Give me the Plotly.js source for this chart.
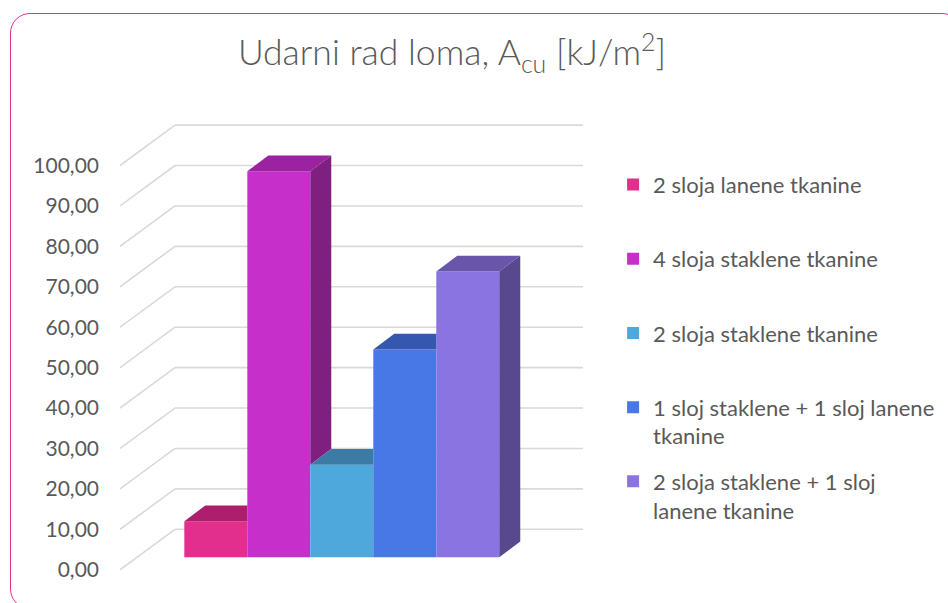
<!DOCTYPE html>
<html><head><meta charset="utf-8">
<script src="https://cdn.plot.ly/plotly-3.0.1.min.js"></script>
<style>
html,body{margin:0;padding:0;background:#fff;}
#wrap{position:relative;width:948px;height:603px;overflow:hidden;background:#fff;}
#chart{position:absolute;left:0;top:0;width:948px;height:603px;}
#frame{position:absolute;left:10px;top:13px;width:952px;height:596px;border:1.6px solid #E8308F;border-radius:20px;box-sizing:border-box;pointer-events:none;}
</style></head>
<body><div id="wrap"><div id="chart"></div><div id="frame"></div></div>
<script>
// ---- data ----
const seriesNames = [
  "2 sloja lanene tkanine",
  "4 sloja staklene tkanine",
  "2 sloja staklene tkanine",
  "1 sloj staklene + 1 sloj lanene<br>tkanine",
  "2 sloja staklene + 1 sloj<br>lanene tkanine"
];
const values = [8.9, 95.5, 22.9, 51.4, 70.7];
const yTicks = [0, 10, 20, 30, 40, 50, 60, 70, 80, 90, 100];

// ---- styles ----
const frontColors = ["#E22E8D", "#C72FCB", "#4EA8DC", "#4877E6", "#8974E1"];
const topColors   = ["#AD1F6C", "#9B22A0", "#3B7BA6", "#3557B0", "#6955AA"];
const sideColors  = ["#8B1A57", "#7F1F80", "#2F6389", "#2B4795", "#58498F"];
const textColor = "#595959";
const gridColor = "#D9D9D9";
const FONT = "Lato, 'Open Sans', sans-serif";

// ---- 3D geometry (axis units) ----
const xMin = -1.521, xMax = 5.829;
const wallDx = 0.873, wallDy = 10.0;   // depth of side wall / floor
const barBase = 3.1;                   // bar front plane lifted from front edge
const barDx = 0.333, barDy = 3.9;      // bar depth
const barW = 1.0;

const traces = [];
const n = values.length;

// front faces as real bars
for (let i = 0; i < n; i++) {
  traces.push({
    type: "bar", x: [i], y: [values[i]], base: [barBase], width: [barW],
    name: seriesNames[i] + (seriesNames[i].indexOf("<br>") < 0 ? "<br>\u00a0" : ""),
    legendgroup: "g" + i,
    marker: { color: frontColors[i], line: { width: 0 } },
    hoverinfo: "skip"
  });
}
// top and side faces
for (let i = 0; i < n; i++) {
  const x0 = i - barW / 2, x1 = i + barW / 2;
  const T = barBase + values[i];
  const hasNext = i < n - 1;
  const nextT = hasNext ? barBase + values[i + 1] : null;
  let tx, ty;
  if (hasNext && nextT >= T + barDy) {
    tx = [x0, x1, x1, x0 + barDx, x0];
    ty = [T, T, T + barDy, T + barDy, T];
  } else {
    tx = [x0, x1, x1 + barDx, x0 + barDx, x0];
    ty = [T, T, T + barDy, T + barDy, T];
  }
  traces.push({
    type: "scatter", mode: "lines", x: tx, y: ty, fill: "toself",
    fillcolor: topColors[i], line: { width: 0, color: topColors[i] },
    showlegend: false, hoverinfo: "skip"
  });
  const L = hasNext ? Math.max(nextT, barBase) : barBase;
  if (L < T) {
    traces.push({
      type: "scatter", mode: "lines",
      x: [x1, x1, x1 + barDx, x1 + barDx, x1],
      y: [L, T, T + barDy, L + barDy, L],
      fill: "toself", fillcolor: sideColors[i],
      line: { width: 0, color: sideColors[i] },
      showlegend: false, hoverinfo: "skip"
    });
  }
}

// wall grid lines
const shapes = [];
yTicks.forEach(v => {
  shapes.push({ type: "line", layer: "below", xref: "x", yref: "y",
    x0: xMin, y0: v, x1: xMin + wallDx, y1: v + wallDy,
    line: { color: gridColor, width: 1.6 } });
  shapes.push({ type: "line", layer: "below", xref: "x", yref: "y",
    x0: xMin + wallDx, y0: v + wallDy, x1: xMax, y1: v + wallDy,
    line: { color: gridColor, width: 1.6 } });
});

const layout = {
  width: 948, height: 603,
  margin: { l: 120, r: 365, t: 116.5, b: 9.4, autoexpand: false },
  paper_bgcolor: "rgba(0,0,0,0)", plot_bgcolor: "rgba(0,0,0,0)",
  separators: ",.",
  barmode: "overlay",
  title: {
    text: "Udarni rad loma, A<sub>cu</sub> [kJ/m<sup>2</sup>]",
    font: { family: FONT, size: 35.5, color: textColor, weight: 300 },
    x: 452 / 948, xref: "container", xanchor: "center",
    y: 1 - 53 / 603, yref: "container", yanchor: "middle"
  },
  xaxis: { range: [xMin, xMax], visible: false, fixedrange: true },
  yaxis: {
    range: [-6, 112], tickvals: yTicks, tickformat: ".2f",
    showgrid: false, zeroline: false, showline: false, ticks: "",
    ticklabelstandoff: 20,
    tickfont: { family: FONT, size: 21, color: textColor }, fixedrange: true
  },
  showlegend: true,
  legend: {
    x: 1.065, xanchor: "left", y: 0.902, yanchor: "top",
    font: { family: FONT, size: 22, color: textColor },
    valign: "top", tracegroupgap: 14, traceorder: "grouped",
    bgcolor: "rgba(0,0,0,0)", borderwidth: 0
  },
  shapes: shapes
};

Plotly.newPlot("chart", traces, layout, { displayModeBar: false, staticPlot: true });
</script>
</body></html>
